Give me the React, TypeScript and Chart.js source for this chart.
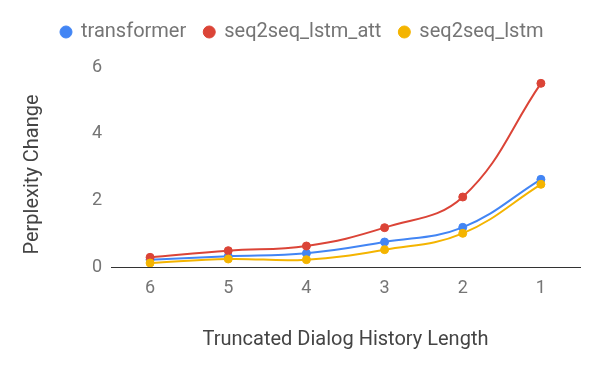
import React, { useEffect, useRef } from 'react';
import { Chart, registerables } from 'chart.js';

Chart.register(...registerables);

const categories = ['6', '5', '4', '3', '2', '1'];
const transformer = [0.22, 0.32, 0.41, 0.75, 1.19, 2.63];
const seq2seqLstmAtt = [0.29, 0.49, 0.63, 1.18, 2.1, 5.51];
const seq2seqLstm = [0.12, 0.24, 0.22, 0.52, 1.01, 2.48];
const seriesNames = ['transformer', 'seq2seq_lstm_att', 'seq2seq_lstm'];
const seriesColors = ['#4285F4', '#DB4437', '#F4B400'];
const yMin = 0;
const yMax = 6;
const yStep = 2;
const xTitle = 'Truncated Dialog History Length';
const yTitle = 'Perplexity Change';

const FONT = 'Roboto, "Noto Sans", Arial, sans-serif';

const layoutTweak = {
  id: 'layoutTweak',
  afterInit(chart: any) {
    const legend = chart.legend;
    if (!legend) return;
    const origFit = legend.fit.bind(legend);
    legend.fit = function () {
      origFit();
      this.height += 15;
    };
  },
  afterLayout(chart: any) {
    const legend = chart.legend;
    if (!legend) return;
    legend.left += 43;
    legend.right += 43;
  },
};

export default function App() {
  const ref = useRef<HTMLCanvasElement | null>(null);

  useEffect(() => {
    document.body.style.margin = '0';
    const canvas = ref.current;
    if (!canvas) return;
    const values = [transformer, seq2seqLstmAtt, seq2seqLstm];
    const chart = new Chart(canvas, {
      type: 'line',
      data: {
        labels: categories,
        datasets: values.map((v, i) => ({
          label: seriesNames[i],
          data: v,
          borderColor: seriesColors[i],
          backgroundColor: seriesColors[i],
          pointBackgroundColor: seriesColors[i],
          pointBorderColor: seriesColors[i],
          pointRadius: 4,
          pointBorderWidth: 1,
          borderWidth: 2,
          tension: 0.4,
          fill: false,
          order: 3 - i,
        })),
      },
      options: {
        responsive: false,
        animation: false,
        devicePixelRatio: 1,
        layout: { padding: { left: 0, right: 20, top: 4, bottom: 0 } },
        plugins: {
          tooltip: { enabled: false },
          legend: {
            display: true,
            position: 'top',
            align: 'start',
            labels: {
              usePointStyle: true,
              pointStyle: 'circle',
              boxWidth: 10,
              boxHeight: 8.5,
              padding: 18,
              color: '#757575',
              font: { family: FONT, size: 20 },
              sort: (a: any, b: any) => a.datasetIndex - b.datasetIndex,
            },
          },
        },
        scales: {
          x: {
            type: 'category',
            offset: true,
            grid: { display: false, drawTicks: false },
            border: { display: true, color: '#333333', width: 1 },
            ticks: {
              color: '#757575',
              font: { family: FONT, size: 18 },
              padding: 11,
              maxRotation: 0,
            },
            title: {
              display: true,
              text: xTitle,
              color: '#444444',
              font: { family: FONT, size: 20 },
              padding: { top: 0, bottom: 19 },
            },
            afterFit: (s: any) => {
              s.height = 104;
            },
          },
          y: {
            min: yMin,
            max: yMax,
            grid: { display: false, drawTicks: false },
            border: { display: false },
            ticks: {
              stepSize: yStep,
              color: '#757575',
              font: { family: FONT, size: 18 },
              padding: 9,
            },
            title: {
              display: true,
              text: yTitle + '   ',
              color: '#444444',
              font: { family: FONT, size: 20 },
              padding: { top: 21, bottom: 0 },
            },
            afterFit: (s: any) => {
              s.width = 111;
            },
          },
        },
      },
      plugins: [layoutTweak],
    } as any);
    return () => chart.destroy();
  }, []);

  return (
    <div style={{ position: 'absolute', left: 0, top: 0, width: 600, height: 371 }}>
      <canvas ref={ref} width={600} height={371} style={{ width: 600, height: 371, display: 'block' }} />
    </div>
  );
}
